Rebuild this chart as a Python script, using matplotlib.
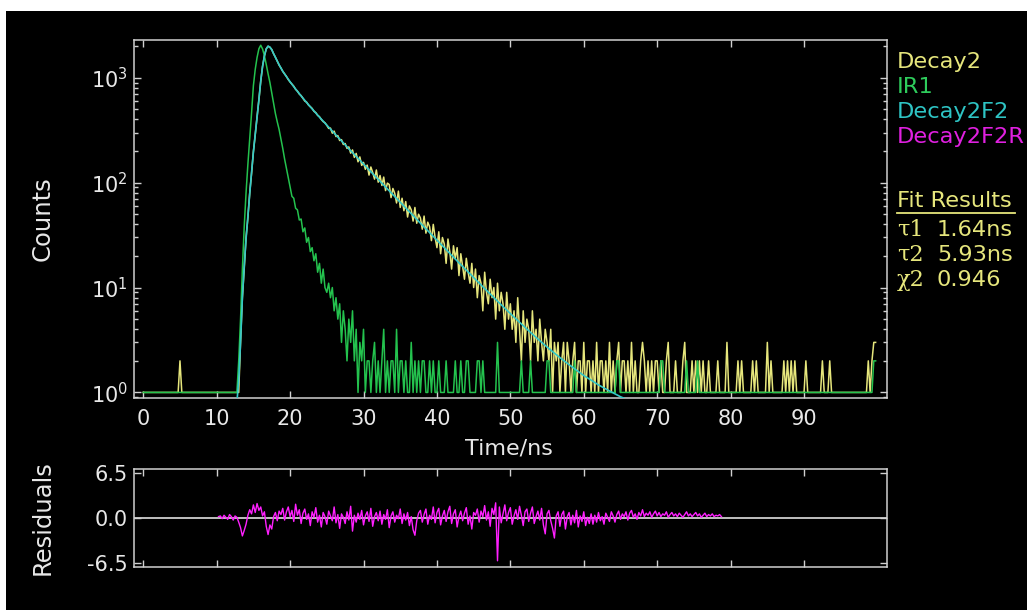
import numpy as np
import matplotlib
matplotlib.use("Agg")
from matplotlib import pyplot as plt
from matplotlib.patches import Rectangle
from matplotlib.lines import Line2D
from matplotlib.ticker import LogLocator, NullFormatter

W, H = 1027, 610

# histogram channel width (ns) and first channel of the fit range
bin_ns = 0.25
resid_start = 10.25

# Decay2: measured decay counts, one row = 5 ns
decay2 = [
    1, 1, 1, 1, 1, 1, 1, 1, 1, 1, 1, 1, 1, 1, 1, 1, 1, 1, 1, 1,
    2, 1, 1, 1, 1, 1, 1, 1, 1, 1, 1, 1, 1, 1, 1, 1, 1, 1, 1, 1,
    1, 1, 1, 1, 1, 1, 1, 1, 1, 1, 1, 1, 1, 3, 8, 15, 30, 46, 80, 122,
    198, 285, 425, 615, 925, 1290, 1610, 1890, 1995, 1950, 1860, 1690, 1570, 1440, 1320, 1240, 1150, 1090, 1030, 960,
    910, 870, 830, 775, 745, 700, 675, 635, 600, 585, 550, 530, 510, 478, 465, 438, 425, 400, 382, 372,
    352, 329, 331, 296, 310, 275, 281, 252, 257, 231, 236, 212, 219, 191, 205, 174, 190, 158, 176, 146,
    156, 134, 147, 118, 141, 125, 108, 132, 101, 117, 94, 113, 84, 99, 96, 72, 88, 79, 64, 83,
    58, 71, 54, 66, 47, 60, 55, 43, 58, 41, 50, 46, 36, 48, 33, 42, 38, 28, 40, 30,
    24, 34, 21, 30, 26, 17, 29, 22, 15, 25, 19, 24, 13, 21, 16, 12, 19, 14, 11, 17,
    10, 15, 8, 13, 11, 6, 14, 9, 7, 12, 8, 10, 5, 11, 6, 9, 7, 4, 9, 5,
    7, 4, 6, 3, 8, 4, 2, 6, 3, 5, 4, 2, 6, 3, 4, 2, 5, 3, 2, 4,
    3, 2, 4, 1, 3, 2, 3, 1, 2, 3, 1, 3, 2, 1, 2, 3, 1, 2, 2, 1,
    3, 1, 2, 2, 1, 2, 1, 3, 1, 2, 2, 1, 2, 1, 3, 1, 2, 1, 2, 3,
    1, 2, 2, 1, 2, 1, 3, 1, 2, 1, 1, 2, 3, 2, 1, 2, 1, 2, 1, 2,
    2, 1, 2, 1, 1, 2, 3, 1, 1, 1, 2, 1, 1, 1, 2, 3, 1, 1, 1, 2,
    1, 2, 1, 2, 1, 2, 1, 1, 2, 1, 1, 1, 1, 2, 1, 1, 1, 1, 3, 1,
    1, 1, 1, 1, 2, 1, 2, 1, 1, 1, 1, 1, 2, 1, 2, 1, 1, 1, 1, 1,
    3, 1, 2, 1, 1, 1, 1, 1, 1, 2, 1, 2, 1, 2, 1, 2, 1, 1, 1, 1,
    1, 2, 1, 1, 1, 1, 1, 1, 1, 1, 2, 1, 1, 1, 2, 1, 1, 1, 1, 1,
    1, 1, 1, 1, 1, 1, 1, 1, 1, 1, 1, 1, 1, 1, 1, 2, 1, 2, 3, 3,
]

# IR1: instrument response, same channels
ir1 = [
    1, 1, 1, 1, 1, 1, 1, 1, 1, 1, 1, 1, 1, 1, 1, 1, 1, 1, 1, 1,
    1, 1, 1, 1, 1, 1, 1, 1, 1, 1, 1, 1, 1, 1, 1, 1, 1, 1, 1, 1,
    1, 1, 1, 1, 1, 1, 1, 1, 1, 1, 1, 1, 2, 5, 15, 38, 80, 150, 260, 460,
    840, 1200, 1560, 1890, 2040, 1880, 1620, 1340, 1090, 900, 715, 565, 455, 380, 322, 262, 212, 168, 137, 112,
    92, 74, 71, 57, 55, 44, 45, 34, 37, 27, 30, 22, 24, 18, 21, 14, 17, 11, 15, 10,
    9, 11, 8, 10, 6, 8, 5, 7, 3, 6, 4, 2, 5, 3, 6, 2, 4, 1, 3, 2,
    4, 1, 2, 2, 1, 2, 3, 1, 2, 1, 2, 4, 1, 2, 1, 2, 2, 1, 4, 1,
    2, 2, 1, 2, 1, 1, 3, 1, 2, 1, 2, 1, 2, 2, 1, 1, 2, 1, 2, 1,
    1, 2, 1, 1, 1, 2, 1, 1, 1, 1, 2, 1, 1, 2, 1, 1, 2, 2, 1, 1,
    1, 1, 2, 2, 1, 2, 1, 1, 1, 1, 1, 1, 1, 3, 1, 1, 1, 1, 1, 1,
    1, 1, 1, 1, 1, 1, 2, 1, 1, 1, 1, 2, 1, 1, 1, 1, 1, 1, 1, 1,
    2, 2, 1, 1, 1, 1, 1, 1, 1, 1, 1, 1, 1, 1, 1, 2, 1, 1, 1, 1,
    1, 1, 1, 1, 1, 1, 1, 1, 1, 1, 1, 1, 1, 1, 1, 1, 1, 1, 2, 2,
    1, 1, 1, 1, 1, 1, 1, 1, 1, 1, 1, 1, 1, 1, 1, 1, 1, 1, 1, 1,
    1, 1, 2, 2, 1, 1, 1, 1, 1, 1, 1, 1, 1, 1, 1, 1, 2, 1, 1, 1,
    1, 1, 2, 1, 1, 1, 1, 1, 1, 1, 1, 1, 1, 1, 1, 1, 1, 1, 1, 1,
    1, 1, 1, 1, 1, 1, 1, 1, 1, 1, 1, 1, 1, 1, 1, 1, 1, 1, 1, 1,
    1, 1, 1, 1, 1, 1, 1, 1, 1, 1, 1, 1, 1, 1, 1, 1, 1, 1, 1, 1,
    1, 1, 1, 1, 1, 1, 1, 1, 1, 1, 1, 1, 1, 1, 1, 1, 1, 1, 1, 1,
    1, 1, 1, 1, 1, 1, 1, 1, 1, 1, 1, 1, 1, 1, 1, 1, 1, 1, 2, 2,
]

# Decay2F2: fitted curve (smooth, read at uneven times)
fit_t = [10.25, 12.5, 12.75, 13.0, 13.25, 13.5, 13.75, 14.0, 14.25, 14.5, 14.75,
         15.0, 15.25, 15.5, 15.75, 16.0, 16.25, 16.5, 16.75, 17.0, 17.25, 17.5, 17.75,
         18.0, 18.5, 19.0, 19.5, 20.0, 20.5, 21.0, 21.5, 22.0, 22.5, 23.0, 23.5, 24.0,
         24.5, 25.0, 25.5, 26.0, 26.5, 27.0, 28, 29, 30, 31, 32, 33, 34, 35, 36, 37,
         38, 39, 40, 41, 42, 43, 44, 45, 46, 47, 48, 49, 50, 51, 52, 53, 54, 55, 56,
         57, 58, 59, 60, 61, 62, 63, 64, 65, 66, 70, 78.75]
fit_counts = [0.5, 0.55, 0.8, 1.3, 3.0, 8.0, 16, 29, 48, 78, 125,
              195, 290, 420, 620, 930, 1280, 1620, 1880, 2000, 1960, 1850, 1700,
              1560, 1330, 1152, 1024, 915, 822, 741, 671, 609, 554, 505, 461, 421,
              386, 353, 324, 297, 272, 250, 210, 177.9, 150.5, 127.1, 107.5, 90.9, 76.9, 65.0, 55.0, 46.6,
              39.4, 33.4, 28.3, 24.0, 20.3, 17.2, 14.65, 12.45, 10.6, 9.03, 7.71, 6.59, 5.65, 4.85, 4.17, 3.60, 3.12, 2.71, 2.37,
              2.08, 1.84, 1.63, 1.45, 1.31, 1.18, 1.08, 0.99, 0.91, 0.85, 0.68, 0.55]

# Decay2F2R: weighted residuals over the fit range
residuals = [
    0.2, 0.3, -0.1, 0.4, 0.1, -0.2, 0.5, 0.2, -0.3, 0.3, 0.1, -0.6, -1.4, -2.6, -1.8, -0.9, 0.4, 1.2, 0.6,
    1.9, 0.8, 2.1, 1.1, 1.6, 0.3, 0.9, -1.2, -2.4, -1.0, -1.6, 0.2, 0.8, -0.4, 1.0, 0.5, 1.4, -0.3, 0.9, 1.6,
    0.2, 1.1, -0.5, 2.0, 0.4, 1.2, -0.8, 0.7, 1.3, -0.2, 0.6, -1.1, 0.9, 0.1, 1.5, -0.6, 0.4, -1.3, 0.8, 0.2,
    -0.9, 1.0, 0.3, -0.4, 1.6, -0.7, 0.5, -1.5, 0.6, 0.1, -0.8, 0.9, -0.3, 1.7, -1.9, 0.4, -0.6, 0.7, -0.2, 1.1,
    -1.0, 0.3, 0.9, -0.5, 1.4, -1.2, 0.2, 0.8, -0.4, 1.0, -0.9, 0.5, -0.2, 1.2, -1.4, 0.3, 0.9, -0.6, 0.4, -0.1,
    1.3, -0.8, 0.6, -0.3, 0.8, -1.1, 0.2, -1.7, -2.5, -0.4, 0.7, 1.1, -0.6, 0.5, 1.3, -0.9, 0.4, -0.2, 1.6, -0.7,
    0.8, 1.4, -1.0, 0.3, 1.1, -0.5, 0.9, 1.7, -0.8, 0.6, 1.2, -1.3, 0.2, 1.0, -0.4, 0.7, 1.5, -0.9, 0.3, -1.6,
    0.8, 0.4, 1.3, -0.6, 1.0, 0.2, 1.8, -0.3, 0.9, -1.2, 1.4, 0.5, 2.2, -6.2, 1.6, -0.7, 0.6, 1.9, -0.4, 0.8,
    1.5, -0.9, 0.3, 1.2, -0.2, 1.7, 0.4, -1.1, 0.9, 1.3, -0.5, 0.7, 1.6, -0.8, 0.2, 1.0, -0.3, 1.4, -1.0, -2.3,
    0.6, 1.1, -0.4, -1.5, -2.9, 0.3, 0.9, -1.2, 0.5, 1.0, -1.6, 0.2, 0.8, -1.0, 0.4, -0.7, 1.1, -1.3, 0.3, -0.5,
    0.9, -1.1, 0.1, -0.8, 0.6, -0.9, 0.4, -0.6, 0.8, -0.4, 0.2, -0.9, 0.7, 0.1, -0.5, 0.9, 0.3, -0.6, 0.5, 1.0,
    -0.2, 0.6, 0.2, 0.9, -0.3, 0.7, 1.1, 0.1, 0.6, -0.2, 0.8, 0.3, 1.2, 0.2, 0.7, 0.4, 0.9, 0.1, 0.6, 1.0,
    0.3, 0.8, 0.2, 0.6, 0.4, 0.9, 0.1, 0.5, 0.8, 0.3, 0.6, 0.2, 0.7, 0.4, 0.1, 0.5, 0.9, 0.3, 0.6, 0.2,
    0.5, 0.8, 0.3, 0.6, 0.1, 0.4, 0.7, 0.2, 0.5, 0.3, 0.6, 0.2, 0.4, 0.3, 0.5, 0.2,
]

x_ticks = [0, 10, 20, 30, 40, 50, 60, 70, 80, 90]
resid_ticks = [-6.5, 0.0, 6.5]
resid_tick_labels = ['-6.5', '0.0', '6.5']

legend_names = ['Decay2', 'IR1', 'Decay2F2', 'Decay2F2R']
legend_colors = ['#e6e67c', '#2ecc5c', '#2ec4c4', '#e020e0']
fit_symbols = ['τ1', 'τ2', 'χ2']
fit_values = ['1.64ns', '5.93ns', '0.946']

c_decay, c_ir, c_fit, c_res = '#e6e67c', '#24c24e', '#33c8c8', '#ff20ff'
c_axis = '#d0d0d0'
c_text = '#e8e8e8'


def px(x, y):
    # pixel position in the picture -> figure fraction
    return x / W, 1 - y / H


def style_axes(ax):
    ax.set_facecolor('black')
    for s in ax.spines.values():
        s.set_color(c_axis)
        s.set_linewidth(1.1)
    ax.tick_params(which='both', direction='in', top=True, right=True,
                   colors=c_axis, labelcolor=c_text, labelsize=15, width=1.0)
    ax.tick_params(which='major', length=5)
    ax.tick_params(which='minor', length=3)


t_data = bin_ns * np.arange(len(decay2))
t_res = resid_start + bin_ns * np.arange(len(residuals))

fig = plt.figure(figsize=(W / 100, H / 100), dpi=100, facecolor='white')
fig.patches.append(Rectangle((6 / W, 0), 1, 1 - 11 / H, transform=fig.transFigure,
                             facecolor='black', edgecolor='none', zorder=-10))

ax = fig.add_axes([133.5 / W, 1 - 398 / H, (887 - 133.5) / W, (398 - 40) / H])
style_axes(ax)
ax.plot(t_data, decay2, color=c_decay, lw=1.1, zorder=2)
ax.plot(t_data, ir1, color=c_ir, lw=1.1, zorder=3)
ax.plot(fit_t, fit_counts, color=c_fit, lw=1.2, zorder=4)
ax.set_yscale('log')
ax.set_xlim(-1.33, 101.3)
ax.set_ylim(0.885, 2290)
ax.set_xticks(x_ticks)
ax.yaxis.set_major_locator(LogLocator(base=10))
ax.yaxis.set_minor_locator(LogLocator(base=10, subs=np.arange(2, 10)))
ax.yaxis.set_minor_formatter(NullFormatter())
ax.tick_params(axis='x', pad=8)
ax.tick_params(axis='y', pad=4)

axr = fig.add_axes([133.5 / W, 1 - 567 / H, (887 - 133.5) / W, (567 - 469) / H])
style_axes(axr)
axr.axhline(0, color='#e0e0e0', lw=1.2, zorder=1)
axr.plot(t_res, residuals, color=c_res, lw=1.0, zorder=2)
axr.set_xlim(-1.33, 101.3)
axr.set_ylim(-7.1, 7.1)
axr.set_xticks(x_ticks)
axr.set_xticklabels([])
axr.set_yticks(resid_ticks, labels=resid_tick_labels)
axr.tick_params(axis='y', pad=4)

fig.text(*px(43, 219), 'Counts', rotation=90, ha='center', va='center', color=c_text, fontsize=17.5)
fig.text(*px(509, 448), 'Time/ns', ha='center', va='center', color=c_text, fontsize=16)
fig.text(*px(43, 518), 'Residuals', rotation=90, ha='center', va='center', color=c_text, fontsize=17.5)

for i, (name, col) in enumerate(zip(legend_names, legend_colors)):
    fig.text(*px(897, 62 + 25 * i), name, ha='left', va='center', color=col, fontsize=16.2)

fig.text(*px(897, 201), 'Fit Results', ha='left', va='center', color=c_decay, fontsize=16.2)
fig.add_artist(Line2D([897 / W, 1015 / W], [1 - 213 / H, 1 - 213 / H], color=c_decay, lw=1.3))
for i, (sym, val) in enumerate(zip(fit_symbols, fit_values)):
    y = 230 + 25 * i
    fig.text(*px(897, y), sym, ha='left', va='center', color=c_decay, fontsize=16.2,
             family='DejaVu Serif')
    fig.text(*px(937, y), val, ha='left', va='center', color=c_decay, fontsize=16.2)

fig.savefig('out.png', dpi=100, facecolor=fig.get_facecolor())
